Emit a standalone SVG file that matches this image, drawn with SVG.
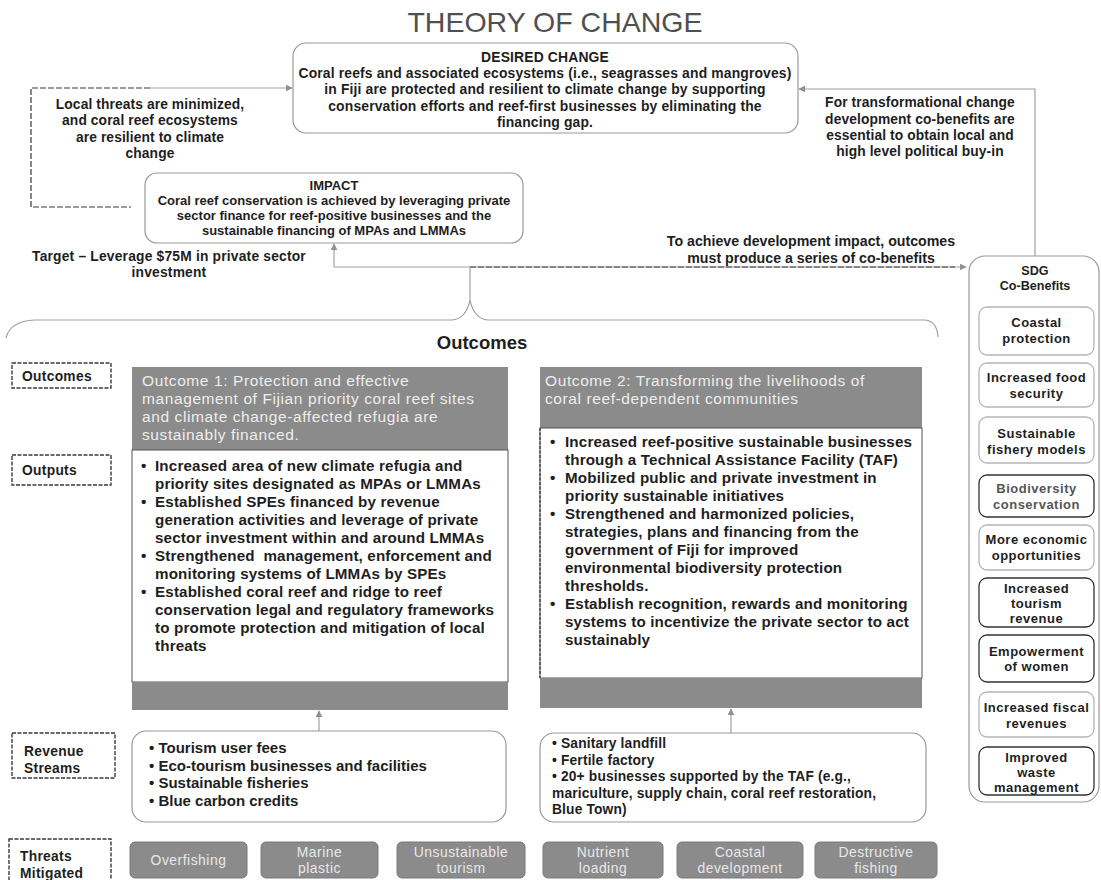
<svg xmlns="http://www.w3.org/2000/svg" width="1101" height="880" viewBox="0 0 1101 880">
  <style>
    text { font-family: "Liberation Sans", Arial, sans-serif; font-weight: 700; fill: #1e1e1e; }
    .title { font-size: 28.5px; font-weight: 400; fill: #505050; }
    .c { text-anchor: middle; }
    .sdg-h { font-size: 12.6px; text-anchor: middle; }
    .imp { font-size: 13px; }
    .txt { font-size: 13.8px; letter-spacing: 0.1px; }
    .dc { font-size: 13.9px; letter-spacing: 0.15px; }
    .tgt { font-size: 13.8px; letter-spacing: 0.2px; }
    .ach { font-size: 14.2px; }
    .lab { font-size: 13.8px; letter-spacing: 0.3px; }
    .sdg { font-size: 13px; letter-spacing: 0.5px; text-anchor: middle; }
    .body-t { font-size: 15.2px; letter-spacing: 0.15px; }
    .rev1 { font-size: 15px; }
    .rev2 { font-size: 13.8px; letter-spacing: 0.15px; }
    .head-t { font-size: 18.5px; }
    .hdr { font-size: 15.5px; font-weight: 400; fill: #ededed; letter-spacing: 0.6px; }
    .thr { font-size: 13.9px; font-weight: 400; fill: #e8e8e8; letter-spacing: 0.5px; text-anchor: middle; }
    .rbox { fill: #ffffff; stroke: #9a9a9a; stroke-width: 1.2; }
    .gray { fill: #8b8b8b; }
    .body { fill: #ffffff; stroke: #555555; stroke-width: 1; }
    .lbl { fill: #ffffff; stroke: #3a3a3a; stroke-width: 1.4; stroke-dasharray: 4 1.5; }
    .threat { fill: #8b8b8b; stroke: #7a7a7a; stroke-width: 1; }
    .sdg-l { fill: #ffffff; stroke: #b5b5b5; stroke-width: 1.3; }
    .sdg-d { fill: #ffffff; stroke: #333333; stroke-width: 1.3; }
    .ln { fill: none; stroke: #a0a0a0; stroke-width: 1.2; }
    .dash { fill: none; stroke: #3a3a3a; stroke-width: 1.2; stroke-dasharray: 6 2; }
  </style>
  <defs>
    <marker id="arr" viewBox="0 0 10 10" refX="9" refY="5" markerWidth="7" markerHeight="7" markerUnits="userSpaceOnUse" orient="auto">
      <path d="M0,0 L10,5 L0,10 z" fill="#909090"/>
    </marker>
  </defs>

  <text class="title c" x="555" y="32">THEORY OF CHANGE</text>

  <!-- connectors -->
  <g id="connectors">
    <!-- left loop: impact back up to desired change -->
    <path class="ln" d="M150,88 H292" marker-end="url(#arr)"/>
    <path class="dash" d="M150,88 H31 V207 H131"/>
    <!-- right loop: SDG co-benefits up to desired change -->
    <path class="ln" d="M1035,256 V89 H799" marker-end="url(#arr)"/>
    <!-- outcomes to impact and to SDG -->
    <path class="ln" d="M334,267 V244" marker-end="url(#arr)"/>
    <path class="ln" d="M334,267 H966" marker-end="url(#arr)"/>
    <path class="dash" d="M470,267 H955" stroke-dasharray="18 3 8 3" stroke-width="0.9"/>
    <path class="ln" d="M470,267 V300"/>
    <!-- outcomes brace -->
    <path class="ln" d="M6,338 Q10,321 35,320 H452 Q466,319 470,300 Q474,319 488,320 H925 Q937,321 938,337"/>
    <!-- revenue streams to outcome footers -->
    <path class="ln" d="M319,731 V711" marker-end="url(#arr)"/>
    <path class="ln" d="M731,733 V709" marker-end="url(#arr)"/>
  </g>

  <g id="desired-change">
    <rect class="rbox" x="293" y="43" width="505" height="90" rx="13"/>
    <text class="dc c" x="545" y="62">DESIRED CHANGE</text>
    <text class="dc c" x="545" y="78">Coral reefs and associated ecosystems (i.e., seagrasses and mangroves)</text>
    <text class="dc c" x="545" y="94">in Fiji are protected and resilient to climate change by supporting</text>
    <text class="dc c" x="545" y="111">conservation efforts and reef-first businesses by eliminating the</text>
    <text class="dc c" x="545" y="127">financing gap.</text>
  </g>

  <g id="local-threats-note">
    <text class="txt c" x="150" y="109">Local threats are minimized,</text>
    <text class="txt c" x="150" y="125">and coral reef ecosystems</text>
    <text class="txt c" x="150" y="142">are resilient to climate</text>
    <text class="txt c" x="150" y="158">change</text>
  </g>

  <g id="political-note">
    <text class="txt c" x="920" y="107">For transformational change</text>
    <text class="txt c" x="920" y="124">development co-benefits are</text>
    <text class="txt c" x="920" y="140">essential to obtain local and</text>
    <text class="txt c" x="920" y="156">high level political buy-in</text>
  </g>

  <g id="impact">
    <rect class="rbox" x="145" y="173" width="378" height="70" rx="12"/>
    <text class="imp c" x="334" y="190">IMPACT</text>
    <text class="imp c" x="334" y="205">Coral reef conservation is achieved by leveraging private</text>
    <text class="imp c" x="334" y="220">sector finance for reef-positive businesses and the</text>
    <text class="imp c" x="334" y="235">sustainable financing of MPAs and LMMAs</text>
  </g>

  <g id="target">
    <text class="tgt c" x="169" y="261">Target – Leverage $75M in private sector</text>
    <text class="tgt c" x="169" y="277">investment</text>
  </g>

  <g id="co-benefit-note">
    <text class="ach c" x="811" y="246">To achieve development impact, outcomes</text>
    <text class="ach c" x="811" y="263">must produce a series of co-benefits</text>
  </g>

  <text class="head-t c" x="482" y="349">Outcomes</text>

  <!-- row labels -->
  <g id="label-outcomes">
    <rect class="lbl" x="12" y="363" width="99" height="25"/>
    <text class="lab" x="22" y="381">Outcomes</text>
  </g>
  <g id="label-outputs">
    <rect class="lbl" x="12" y="455" width="99" height="30"/>
    <text class="lab" x="22" y="475">Outputs</text>
  </g>
  <g id="label-revenue">
    <rect class="lbl" x="12" y="733" width="103" height="45"/>
    <text class="lab" x="24" y="756">Revenue</text>
    <text class="lab" x="24" y="773">Streams</text>
  </g>
  <g id="label-threats">
    <rect class="lbl" x="9" y="839" width="102" height="48"/>
    <text class="lab" x="20" y="861">Threats</text>
    <text class="lab" x="20" y="878">Mitigated</text>
  </g>

  <g id="outcome-1">
    <rect class="gray" x="132" y="367" width="376" height="83"/>
    <text class="hdr" x="142" y="386">Outcome 1: Protection and effective</text>
    <text class="hdr" x="142" y="404">management of Fijian priority coral reef sites</text>
    <text class="hdr" x="142" y="422">and climate change-affected refugia are</text>
    <text class="hdr" x="142" y="440">sustainably financed.</text>
    <rect class="body" x="132" y="450" width="376" height="232"/>
    <rect class="gray" x="132" y="682" width="376" height="28"/>
    <g class="body-t">
      <text x="141" y="471">•</text>
      <text x="155" y="471">Increased area of new climate refugia and</text>
      <text x="155" y="489">priority sites designated as MPAs or LMMAs</text>
      <text x="141" y="507">•</text>
      <text x="155" y="507">Established SPEs financed by revenue</text>
      <text x="155" y="525">generation activities and leverage of private</text>
      <text x="155" y="543">sector investment within and around LMMAs</text>
      <text x="141" y="561">•</text>
      <text x="155" y="561" xml:space="preserve">Strengthened  management, enforcement and</text>
      <text x="155" y="579">monitoring systems of LMMAs by SPEs</text>
      <text x="141" y="597">•</text>
      <text x="155" y="597">Established coral reef and ridge to reef</text>
      <text x="155" y="615">conservation legal and regulatory frameworks</text>
      <text x="155" y="633">to promote protection and mitigation of local</text>
      <text x="155" y="651">threats</text>
    </g>
  </g>

  <g id="outcome-2">
    <rect class="gray" x="540" y="367" width="382" height="61"/>
    <text class="hdr" x="545" y="386">Outcome 2: Transforming the livelihoods of</text>
    <text class="hdr" x="545" y="404">coral reef-dependent communities</text>
    <rect class="body" x="540" y="428" width="382" height="250"/>
    <line x1="540" y1="428" x2="540" y2="678" stroke="#333" stroke-width="1.2" stroke-dasharray="3 1.5"/>
    <rect class="gray" x="540" y="678" width="382" height="30"/>
    <g class="body-t">
      <text x="550" y="447">•</text>
      <text x="565" y="447">Increased reef-positive sustainable businesses</text>
      <text x="565" y="465">through a Technical Assistance Facility (TAF)</text>
      <text x="550" y="483">•</text>
      <text x="565" y="483">Mobilized public and private investment in</text>
      <text x="565" y="501">priority sustainable initiatives</text>
      <text x="550" y="519">•</text>
      <text x="565" y="519">Strengthened and harmonized policies,</text>
      <text x="565" y="537">strategies, plans and financing from the</text>
      <text x="565" y="555">government of Fiji for improved</text>
      <text x="565" y="573">environmental biodiversity protection</text>
      <text x="565" y="591">thresholds.</text>
      <text x="550" y="609">•</text>
      <text x="565" y="609">Establish recognition, rewards and monitoring</text>
      <text x="565" y="627">systems to incentivize the private sector to act</text>
      <text x="565" y="645">sustainably</text>
    </g>
  </g>

  <g id="revenue-1">
    <rect class="rbox" x="132" y="731" width="374" height="91" rx="14"/>
    <g class="rev1">
      <text x="149" y="753">• Tourism user fees</text>
      <text x="149" y="770.5">• Eco-tourism businesses and facilities</text>
      <text x="149" y="788">• Sustainable fisheries</text>
      <text x="149" y="805.5">• Blue carbon credits</text>
    </g>
  </g>

  <g id="revenue-2">
    <rect class="rbox" x="540" y="733" width="386" height="89" rx="14"/>
    <g class="rev2">
      <text x="552" y="748">• Sanitary landfill</text>
      <text x="552" y="764.5">• Fertile factory</text>
      <text x="552" y="781">• 20+ businesses supported by the TAF (e.g.,</text>
      <text x="552" y="797.5">mariculture, supply chain, coral reef restoration,</text>
      <text x="552" y="814">Blue Town)</text>
    </g>
  </g>

  <g id="threat-overfishing">
    <rect class="threat" x="130" y="842" width="117" height="36" rx="5"/>
    <text class="thr" x="188.5" y="865">Overfishing</text>
  </g>
  <g id="threat-marine-plastic">
    <rect class="threat" x="261" y="842" width="117" height="36" rx="5"/>
    <text class="thr" x="319.5" y="857">Marine</text>
    <text class="thr" x="319.5" y="873">plastic</text>
  </g>
  <g id="threat-tourism">
    <rect class="threat" x="397" y="842" width="128" height="36" rx="5"/>
    <text class="thr" x="461" y="857">Unsustainable</text>
    <text class="thr" x="461" y="873">tourism</text>
  </g>
  <g id="threat-nutrient">
    <rect class="threat" x="543" y="842" width="120" height="36" rx="5"/>
    <text class="thr" x="603" y="857">Nutrient</text>
    <text class="thr" x="603" y="873">loading</text>
  </g>
  <g id="threat-coastal">
    <rect class="threat" x="677" y="842" width="126" height="36" rx="5"/>
    <text class="thr" x="740" y="857">Coastal</text>
    <text class="thr" x="740" y="873">development</text>
  </g>
  <g id="threat-destructive">
    <rect class="threat" x="815" y="842" width="122" height="36" rx="5"/>
    <text class="thr" x="876" y="857">Destructive</text>
    <text class="thr" x="876" y="873">fishing</text>
  </g>

  <g id="sdg-co-benefits">
    <rect class="rbox" x="969" y="256" width="130" height="546" rx="16"/>
    <text class="sdg-h" x="1035" y="275">SDG</text>
    <text class="sdg-h" x="1035" y="290">Co-Benefits</text>
  </g>
  <g id="sdg-coastal">
    <rect class="sdg-l" x="979" y="307" width="115" height="48" rx="8"/>
    <text class="sdg" x="1036.5" y="327">Coastal</text>
    <text class="sdg" x="1036.5" y="343">protection</text>
  </g>
  <g id="sdg-food">
    <rect class="sdg-l" x="979" y="363" width="115" height="44" rx="8"/>
    <text class="sdg" x="1036.5" y="382">Increased food</text>
    <text class="sdg" x="1036.5" y="398">security</text>
  </g>
  <g id="sdg-fishery">
    <rect class="sdg-l" x="979" y="417" width="115" height="46" rx="8"/>
    <text class="sdg" x="1036.5" y="438">Sustainable</text>
    <text class="sdg" x="1036.5" y="454">fishery models</text>
  </g>
  <g id="sdg-biodiversity">
    <rect class="sdg-d" x="979" y="475" width="115" height="42" rx="8"/>
    <text class="sdg" x="1036.5" y="493" style="fill:#555">Biodiversity</text>
    <text class="sdg" x="1036.5" y="509" style="fill:#555">conservation</text>
  </g>
  <g id="sdg-economic">
    <rect class="sdg-l" x="979" y="525" width="115" height="45" rx="8"/>
    <text class="sdg" x="1036.5" y="544">More economic</text>
    <text class="sdg" x="1036.5" y="560">opportunities</text>
  </g>
  <g id="sdg-tourism">
    <rect class="sdg-d" x="979" y="578" width="115" height="49" rx="8"/>
    <text class="sdg" x="1036.5" y="593">Increased</text>
    <text class="sdg" x="1036.5" y="608">tourism</text>
    <text class="sdg" x="1036.5" y="623">revenue</text>
  </g>
  <g id="sdg-women">
    <rect class="sdg-d" x="979" y="635" width="115" height="47" rx="8"/>
    <text class="sdg" x="1036.5" y="656">Empowerment</text>
    <text class="sdg" x="1036.5" y="671">of women</text>
  </g>
  <g id="sdg-fiscal">
    <rect class="sdg-l" x="979" y="692" width="115" height="45" rx="8"/>
    <text class="sdg" x="1036.5" y="712">Increased fiscal</text>
    <text class="sdg" x="1036.5" y="728">revenues</text>
  </g>
  <g id="sdg-waste">
    <rect class="sdg-d" x="979" y="747" width="115" height="48" rx="8"/>
    <text class="sdg" x="1036.5" y="762">Improved</text>
    <text class="sdg" x="1036.5" y="777">waste</text>
    <text class="sdg" x="1036.5" y="792">management</text>
  </g>
</svg>
